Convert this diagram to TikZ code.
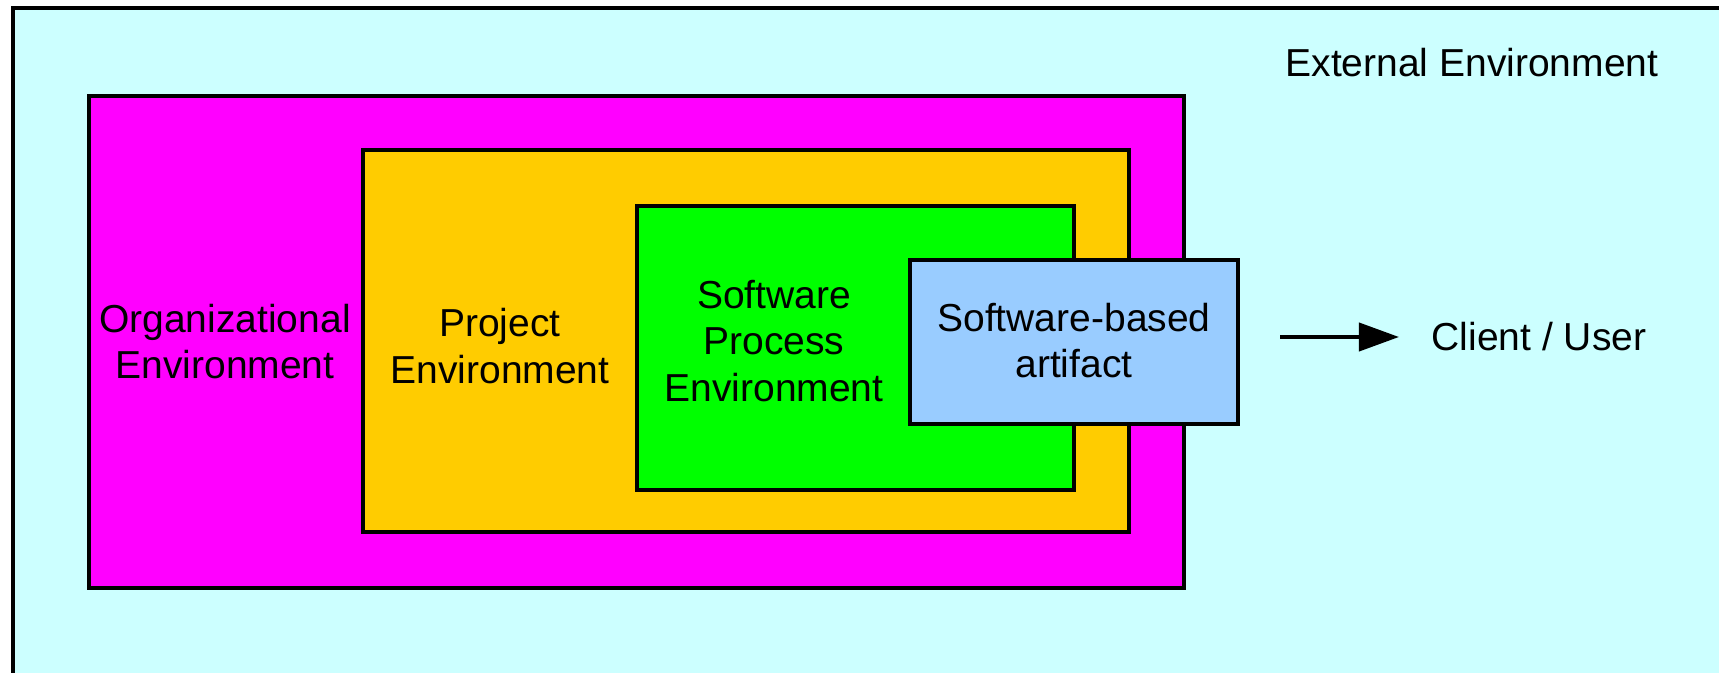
\documentclass[tikz,border=0pt]{standalone}
\usepackage{fontspec}
\setmainfont{Liberation Sans}
\usetikzlibrary{arrows.meta}

\definecolor{extfill}{HTML}{CCFFFF}
\definecolor{orgfill}{HTML}{FF00FF}
\definecolor{projfill}{HTML}{FFCC00}
\definecolor{procfill}{HTML}{00FF00}
\definecolor{artfill}{HTML}{99CCFF}

\tikzset{
  envbox/.style={draw=black, line width=0.04cm, rectangle, outer sep=0pt, inner sep=0pt},
  label/.style={inner sep=0pt, align=center, font=\fontsize{11.1pt}{13.3pt}\selectfont},
  flow/.style={draw=black, line width=0.04cm, -{Triangle[length=0.40cm, width=0.28cm]}}
}

\begin{document}
\begin{tikzpicture}
  % page frame; the outer environment runs off its right and bottom sides
  \clip (0,0) rectangle (17.19,6.72);
  \fill[white] (0,0) rectangle (17.19,6.72);

  \node[envbox, fill=extfill, anchor=north west, minimum width=20cm, minimum height=10cm]
    (ext) at (0.13,6.64) {};

  % nested environments
  \node[envbox, fill=orgfill,  minimum width=10.945cm, minimum height=4.92cm]  (org)  at (6.3675,3.30) {};
  \node[envbox, fill=projfill, minimum width=7.655cm,  minimum height=3.815cm] (proj) at (7.4575,3.3075) {};
  \node[envbox, fill=procfill, minimum width=4.37cm,   minimum height=2.84cm]  (proc) at (8.555,3.24) {};
  \node[envbox, fill=artfill,  minimum width=3.28cm,   minimum height=1.64cm]  (art)  at (10.74,3.30) {};

  % labels
  \node[label, anchor=base] (extlbl) at (14.72,5.955) {External Environment};
  \node[label] (orglbl)  at (2.25,3.305)  {Organizational\\Environment};
  \node[label] (projlbl) at (5.00,3.26)   {Project\\Environment};
  \node[label] (proclbl) at (7.74,3.31)   {Software\\Process\\Environment};
  \node[label] (artlbl)  at (10.74,3.315) {Software-based\\artifact};
  \node[label] (client)  at (15.39,3.35)  {Client / User};

  % delivery of the artifact
  \draw[flow, shorten <=0.42cm, shorten >=0.32cm] (art.east |- client.west) -- (client.west);
\end{tikzpicture}
\end{document}
